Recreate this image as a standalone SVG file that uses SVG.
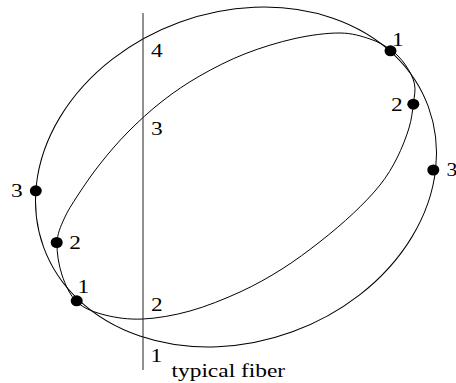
<svg xmlns="http://www.w3.org/2000/svg" width="456" height="383" viewBox="0 0 456 383">
<style>
.curve{fill:none;stroke:#000;stroke-width:1}
.fiber{fill:none;stroke:#222;stroke-width:1}
.dot{fill:#000}
text{font-family:"Liberation Serif","Times New Roman",Times,serif;font-size:18px;fill:#000}
</style>
<rect width="456" height="383" fill="#fff"/>
<g id="curves">
<ellipse id="outer" class="curve" cx="236" cy="177" rx="204.8" ry="164.8" transform="rotate(-20.03 236 177)"/>
<path id="inner" class="curve" d="M391,50 C396.9,54.3 401.6,59.3 405.5,65 S413.2,77.5 414.5,84 S414.2,96.7 413.3,104 S411.7,119 409,128 S401.8,148.5 397,158 S387.3,175.8 380,185 S363.3,203.9 353.3,213.3 S331.9,232.4 320,241.7 S295.3,260.6 282,269 S255.3,285 240,292 S206.2,306.5 190,311 S157.2,318.3 143,319 S116,317.8 105,315 S84.2,308.7 77,302 S65.3,284.8 62,275 S56.7,252.3 57,243 S60.5,227 64,219 S72,204.2 78,195 S91.7,174.5 100,164 S117.7,142.4 128,132 S150,110.8 162,101.4 S186.2,83.7 200,75.8 S229.2,60 245,53.8 S279.2,42 295,38.5 S327.5,32.9 340,33 S361.5,36.2 370,39 S385.1,45.7 391,50 Z"/>
</g>
<g id="fiber">
<line class="fiber" x1="143" y1="13" x2="143" y2="370"/>
<text transform="matrix(1.3 0 0 1 151 57)">4</text>
<text transform="matrix(1.3 0 0 1 151 135)">3</text>
<text transform="matrix(1.3 0 0 1 151 310.5)">2</text>
<text transform="matrix(1.3 0 0 1 150.5 361.5)">1</text>
<text transform="matrix(1.3 0 0 1 171.5 377)">typical fiber</text>
</g>
<g id="p-tr1"><ellipse class="dot" cx="390.5" cy="50.8" rx="6" ry="5.5"/><text transform="matrix(1.3 0 0 1 392 46)">1</text></g>
<g id="p-r2"><ellipse class="dot" cx="413.3" cy="104.2" rx="6" ry="5.5"/><text transform="matrix(1.3 0 0 1 391 110.5)">2</text></g>
<g id="p-r3"><ellipse class="dot" cx="433.3" cy="170" rx="6" ry="5.5"/><text transform="matrix(1.2 0 0 1 446.5 176)">3</text></g>
<g id="p-l3"><ellipse class="dot" cx="35.8" cy="190.8" rx="6" ry="5.5"/><text transform="matrix(1.3 0 0 1 11 196.5)">3</text></g>
<g id="p-l2"><ellipse class="dot" cx="56.7" cy="242.5" rx="6" ry="5.5"/><text transform="matrix(1.3 0 0 1 69.3 249)">2</text></g>
<g id="p-bl1"><ellipse class="dot" cx="76.7" cy="300.8" rx="6" ry="5.5"/><text transform="matrix(1.3 0 0 1 77.4 293)">1</text></g>
</svg>
